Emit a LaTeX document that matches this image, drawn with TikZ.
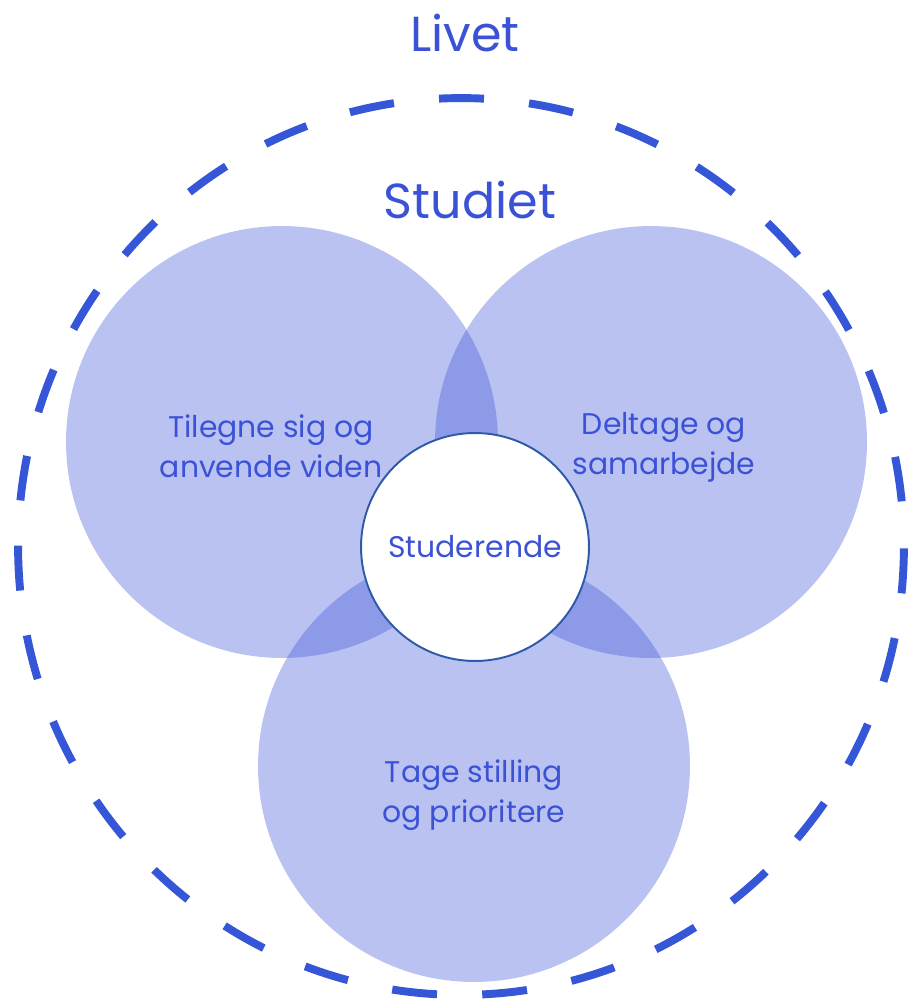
\documentclass[tikz,border=0pt]{standalone}
\usepackage{fontspec}
\setmainfont{Poppins}
\definecolor{txtblue}{HTML}{3B52D6}
\definecolor{dashblue}{HTML}{3656D8}
\definecolor{vennblue}{HTML}{3D55D9}
\definecolor{rimblue}{HTML}{2F5AA8}
\begin{document}
\begin{tikzpicture}[x=0.02cm,y=-0.02cm,
  vennset/.style={circle, minimum size=8.64cm, inner sep=0pt, fill=vennblue, fill opacity=0.36},
  centre/.style={circle, minimum size=4.56cm, inner sep=0pt, fill=white, draw=rimblue, line width=1.1pt,
    text=txtblue, font=\fontsize{17}{22.8}\selectfont},
  label/.style={text=txtblue, align=center, font=\fontsize{17}{22.8}\selectfont},
  title/.style={text=txtblue, anchor=base, font=\fontsize{28}{32}\selectfont},
  livetline/.style={draw=dashblue, line width=4.5pt, dash pattern=on 0.9cm off 0.906cm, dash phase=0.902cm}]
\useasboundingbox (0,0) rectangle (907,1000);
\coordinate (livetc) at (461,546.5);
\draw[livetline] (livetc) ellipse [x radius=8.86cm, y radius=8.97cm];
\node[vennset] (left) at (282,442) {};
\node[vennset] (right) at (651,442) {};
\node[vennset] (bottom) at (474,766) {};
\node[centre] (stud) at (475,547) {Studerende};
\node[label] (ltext) at (271,446) {Tilegne sig og\\anvende viden};
\node[label] (rtext) at (664,447) {Deltage og\\samarbejde};
\node[label] (btext) at (474,795) {Tage stilling\\og prioritere};
\node[title] (livet) at (465,52) {Livet};
\node[title] (studiet) at (470,218) {Studiet};
\end{tikzpicture}
\end{document}
